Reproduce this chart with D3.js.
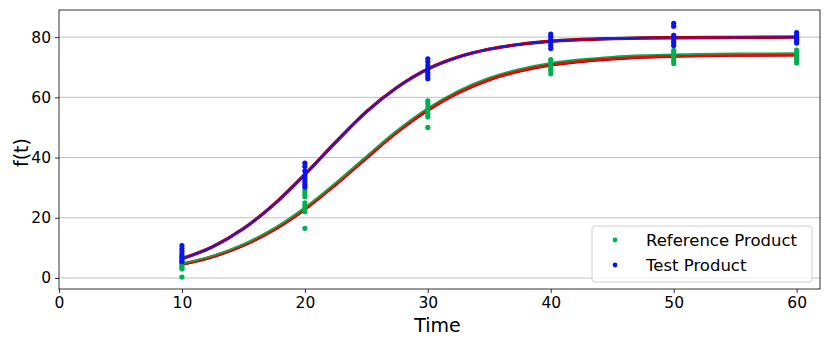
<!DOCTYPE html>
<html>
<head>
<meta charset="utf-8">
<script src="https://cdn.jsdelivr.net/npm/d3@7"></script>
<style>
  body { margin: 0; background: #fff; }
  text { font-family: "DejaVu Sans", sans-serif; }
</style>
</head>
<body>
<div id="chart"></div>
<script>
const width = 830,
  height = 346;
const margin = { top: 10, right: 10, bottom: 57, left: 59 };

// sampling times
const times = [10, 20, 30, 40, 50, 60];

const refPoints = [
  [7.0, 5.5, 5.0, 4.2, 3.5, 3.0, 0.3],
  [29.0, 28.0, 27.0, 25.0, 24.0, 23.0, 22.0, 16.5],
  [58.8, 57.8, 56.5, 55.5, 54.5, 53.5, 50.0],
  [72.5, 71.6, 70.6, 69.6, 68.8, 67.8],
  [75.6, 74.8, 74.0, 73.2, 72.2, 71.2],
  [75.7, 74.8, 73.8, 73.0, 72.2, 71.4]
];
const testPoints = [
  [10.8, 9.8, 8.8, 7.8, 7.0, 6.2, 5.4],
  [38.2, 37.0, 35.5, 34.0, 33.0, 32.0, 31.0, 30.2],
  [72.8, 71.8, 70.5, 69.4, 68.2, 67.2, 66.2],
  [81.0, 80.2, 79.2, 78.3, 77.3, 76.2],
  [84.6, 83.6, 80.6, 79.9, 79.0, 78.2, 77.2],
  [81.5, 80.7, 80.0, 79.4, 78.8, 78.0]
];

// fitted curves, read every 2.5 time units
const fitTimes = [10, 12.5, 15, 17.5, 20, 22.5, 25, 27.5, 30, 32.5, 35, 37.5, 40, 42.5, 45, 47.5, 50, 55, 60];
const refFitRed = [4.6, 7.1, 10.9, 16.1, 22.9, 31.1, 39.9, 48.5, 55.8, 61.6, 65.9, 68.8, 70.8, 72.0, 72.8, 73.4, 73.7, 74.0, 74.1];
const refFitGreen = [4.8, 7.4, 11.3, 16.6, 23.5, 31.7, 40.5, 49.1, 56.5, 62.3, 66.6, 69.5, 71.5, 72.7, 73.5, 74.0, 74.3, 74.6, 74.7];
const testFit = [6.4, 10.4, 16.4, 24.5, 34.4, 45.1, 55.2, 63.3, 69.4, 73.4, 76.0, 77.6, 78.6, 79.2, 79.5, 79.7, 79.8, 79.9, 80.0];

const xTicks = [0, 10, 20, 30, 40, 50, 60];
const yTicks = [0, 20, 40, 60, 80];

const legendLabels = ["Reference Product", "Test Product"];
const green = "#00b050",
  blue = "#0a14f0",
  red = "#ff0000";

const iw = width - margin.left - margin.right,
  ih = height - margin.top - margin.bottom;

const x = d3.scaleLinear().domain([0, 61.9]).range([0, iw]);
const y = d3.scaleLinear().domain([-3.65, 89]).range([ih, 0]);

const svg = d3
  .select("#chart")
  .append("svg")
  .attr("width", width)
  .attr("height", height)
  .append("g")
  .attr("transform", `translate(${margin.left},${margin.top})`);

// horizontal grid
svg
  .selectAll(".grid")
  .data(yTicks)
  .enter()
  .append("line")
  .attr("class", "grid")
  .attr("x1", 0)
  .attr("x2", iw)
  .attr("y1", (d) => y(d))
  .attr("y2", (d) => y(d))
  .attr("stroke", "#b0b0b0")
  .attr("stroke-width", 0.8);

const line = (vals) =>
  d3
    .line()
    .x((d, i) => x(fitTimes[i]))
    .y((d) => y(d))
    .curve(d3.curveMonotoneX)(vals);

svg.append("path").attr("d", line(refFitRed)).attr("fill", "none").attr("stroke", "#600").attr("stroke-width", 3.4);
svg.append("path").attr("d", line(refFitRed)).attr("fill", "none").attr("stroke", red).attr("stroke-width", 2.6);
svg.append("path").attr("d", line(refFitGreen)).attr("fill", "none").attr("stroke", green).attr("stroke-width", 1.6);
svg.append("path").attr("d", line(testFit)).attr("fill", "none").attr("stroke", "#600").attr("stroke-width", 3.4);
svg.append("path").attr("d", line(testFit)).attr("fill", "none").attr("stroke", red).attr("stroke-width", 2.6);
svg.append("path").attr("d", line(testFit)).attr("fill", "none").attr("stroke", blue).attr("stroke-width", 1.6);

function dots(points, color) {
  const flat = [];
  points.forEach((vals, i) => vals.forEach((v) => flat.push([times[i], v])));
  svg
    .append("g")
    .selectAll("circle")
    .data(flat)
    .enter()
    .append("circle")
    .attr("cx", (d) => x(d[0]))
    .attr("cy", (d) => y(d[1]))
    .attr("r", 2.6)
    .attr("fill", color);
}
dots(refPoints, green);
dots(testPoints, blue);

// axes
const xAxis = svg
  .append("g")
  .attr("transform", `translate(0,${ih})`)
  .call(d3.axisBottom(x).tickValues(xTicks).tickSize(4).tickPadding(4));
const yAxis = svg
  .append("g")
  .call(d3.axisLeft(y).tickValues(yTicks).tickSize(4).tickPadding(4));
[xAxis, yAxis].forEach((a) => {
  a.select(".domain").remove();
  a.selectAll("text").attr("font-size", 15.5).attr("fill", "#000").style("font-family", "DejaVu Sans");
  a.selectAll("line").attr("stroke", "#000").attr("stroke-width", 0.8);
});

// frame
svg
  .append("rect")
  .attr("width", iw)
  .attr("height", ih)
  .attr("fill", "none")
  .attr("stroke", "#000")
  .attr("stroke-width", 0.8);

svg
  .append("text")
  .attr("x", iw / 2 - 2)
  .attr("y", ih + 43)
  .attr("text-anchor", "middle")
  .attr("font-size", 19)
  .text("Time");

svg
  .append("text")
  .attr("transform", `translate(${-31},${ih / 2 + 3}) rotate(-90)`)
  .attr("text-anchor", "middle")
  .attr("font-size", 19)
  .text("f(t)");

// legend
const legend = svg.append("g").attr("transform", `translate(${592 - margin.left},${226 - margin.top})`);
legend
  .append("rect")
  .attr("width", 220)
  .attr("height", 56)
  .attr("rx", 3)
  .attr("fill", "#fff")
  .attr("fill-opacity", 0.8)
  .attr("stroke", "#d0d0d0");
legendLabels.forEach((lab, i) => {
  legend
    .append("circle")
    .attr("cx", 23)
    .attr("cy", 14 + i * 25)
    .attr("r", 2.4)
    .attr("fill", i === 0 ? green : blue);
  legend
    .append("text")
    .attr("x", 54)
    .attr("y", 14 + i * 25)
    .attr("dy", "0.35em")
    .attr("font-size", 16.5)
    .text(lab);
});
</script>
</body>
</html>
